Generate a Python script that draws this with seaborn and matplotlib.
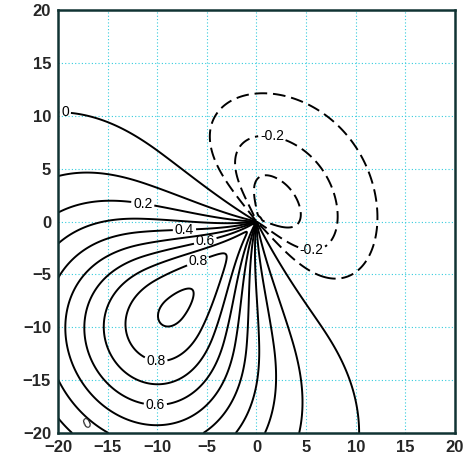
import numpy as np
import matplotlib
matplotlib.use("Agg")
import matplotlib.pyplot as plt
import seaborn as sns

# contour levels (negative dashed, zero and positive solid)
neg_levels = [-0.3, -0.2, -0.1]
pos_levels = [0.0, 0.1, 0.2, 0.3, 0.4, 0.5, 0.6, 0.7, 0.8, 0.9]

# the two lobes, in polar form about the origin
lobe_amp = [0.965, -0.27]        # peak amplitude
lobe_dir = [225.0, 42.0]         # direction of the lobe axis (deg)
lobe_peak_r = [11.7, 2.5]        # radius of the extreme
lobe_w_in = [20.6, 7.0]          # radial width towards the origin
lobe_w_out = [15.5, 7.5]         # radial width away from the origin
lobe_halfwidth = [46.0, 82.0]    # angular half width (deg)
lobe_power = [2, 6]              # sharpness of the angular fall-off
background = -0.05

ticks = list(range(-20, 21, 5))

# where the contour labels sit
label_at = {
    0.0: [(-19.3, 10.1)],
    0.2: [(-11.3, 2.6)],
    0.4: [(-7.3, 0.3)],
    0.6: [(-5.3, -1.3), (-10.2, -17.8)],
    0.8: [(-5.8, -4.0), (-10.2, -13.6)],
    -0.2: [(1.5, 7.6), (5.6, -1.6)],
}

x = np.linspace(-20, 20, 401)
X, Y = np.meshgrid(x, x)
R = np.hypot(X, Y)
TH = np.degrees(np.arctan2(Y, X))
Z = np.full_like(R, background)
for a, d, rp, wi, wo, hw, p in zip(lobe_amp, lobe_dir, lobe_peak_r, lobe_w_in,
                                   lobe_w_out, lobe_halfwidth, lobe_power):
    dth = np.abs((TH - d + 180.0) % 360.0 - 180.0)
    ang = np.exp(-(dth / hw) ** p)
    w = np.where(R < rp, wi, wo)
    rad = np.exp(-((R - rp) / w) ** 2)
    Z += a * ang * rad

sns.set_style("white")
plt.rcParams['font.family'] = ['Liberation Sans', 'DejaVu Sans']

fig, ax = plt.subplots(figsize=(4.65, 4.61), dpi=100)
fig.subplots_adjust(left=0.1247, right=0.9785, bottom=0.0607, top=0.978)

for lv in neg_levels + pos_levels:
    ls = (0, (6.5, 3.0)) if lv < 0 else 'solid'
    cs = ax.contour(X, Y, Z, levels=[lv], colors='black', linewidths=1.4,
                    linestyles=[ls])
    key = round(lv, 1)
    if key in label_at:
        texts = ax.clabel(cs, manual=label_at[key], fmt=lambda v: f"{v:g}",
                          fontsize=10, inline=True, inline_spacing=2)
        for t in texts:
            t.set_rotation(0)
ax.text(-17.0, -19.15, "0", rotation=25, fontsize=10, ha='center', va='center')

ax.set_xlim(-20, 20)
ax.set_ylim(-20, 20)
ax.set_xticks(ticks)
ax.set_yticks(ticks)
ax.grid(True, color='#33ccdd', linestyle=(0, (1, 2)), linewidth=0.8)
ax.set_axisbelow(True)
ax.tick_params(direction='inout', length=6, width=1.2, labelsize=12, pad=2)
for lab in ax.get_xticklabels() + ax.get_yticklabels():
    lab.set_fontweight('bold')
for sp in ax.spines.values():
    sp.set_color('#113333')
    sp.set_linewidth(1.8)

fig.savefig('out.png', dpi=100)
